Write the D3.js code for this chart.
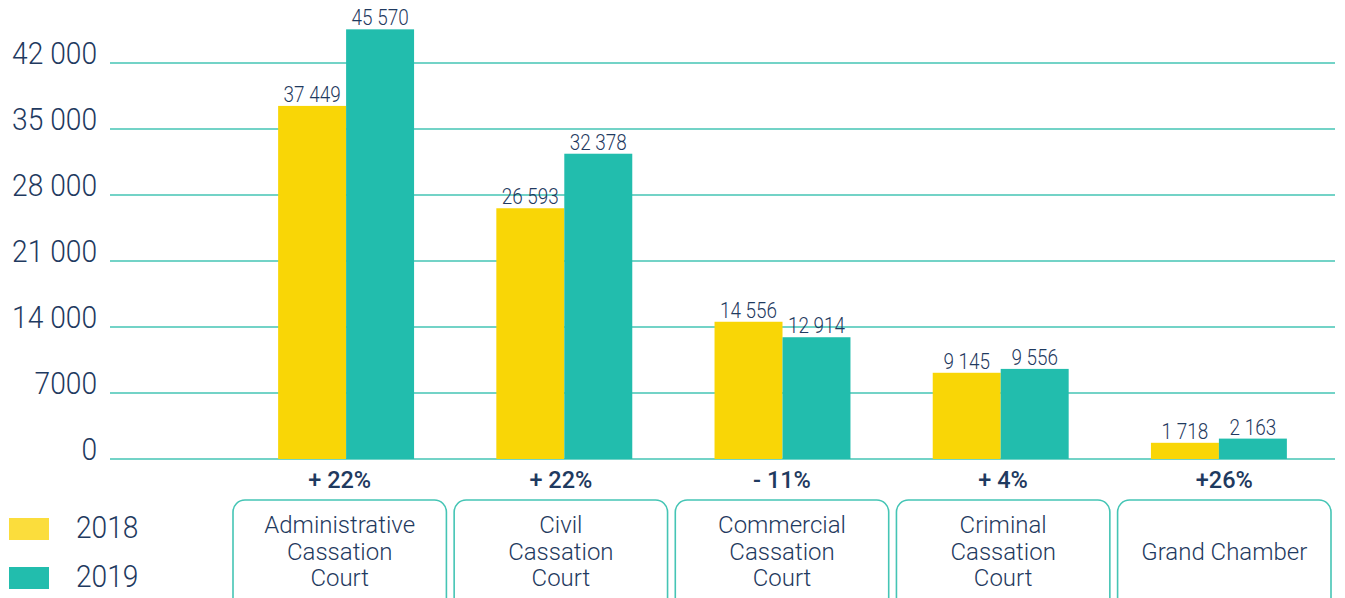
<!DOCTYPE html>
<html>
<head>
<meta charset="utf-8">
<script src="https://cdn.jsdelivr.net/npm/d3@7"></script>
<style>
  html, body { margin: 0; padding: 0; background: #ffffff; }
  svg { display: block; }
  text { font-family: Roboto, "Noto Sans", sans-serif; fill: #1f3a60; }
</style>
</head>
<body>
<svg id="chart" width="1345" height="598"></svg>
<script>
// Cases received by each court, 2018 vs 2019
const categories = [
  ["Administrative", "Cassation", "Court"],
  ["Civil", "Cassation", "Court"],
  ["Commercial", "Cassation", "Court"],
  ["Criminal", "Cassation", "Court"],
  ["Grand Chamber"]
];
const categoryKeys = ["admin", "civil", "commercial", "criminal", "grand"];
const values2018 = [37449, 26593, 14556, 9145, 1718];
const values2019 = [45570, 32378, 12914, 9556, 2163];
const changeLabels = ["+ 22%", "+ 22%", "- 11%", "+ 4%", "+26%"];
const seriesNames = ["2018", "2019"];
const yTicks = [0, 7000, 14000, 21000, 28000, 35000, 42000];
const yTickLabels = ["0", "7000", "14 000", "21 000", "28 000", "35 000", "42 000"];

const colors = { "2018": "#f9d606", "2019": "#22bdad" };
const legendColors = { "2018": "#fbdd3c", "2019": "#22bdad" };
const gridColor = "#45c5b5";

const svg = d3.select("#chart");

const plot = { left: 110, right: 1335, top: 63, bottom: 459 };

const y = d3.scaleLinear().domain([0, 42000]).range([plot.bottom, plot.top]);

// bar groups
const x0 = d3.scaleBand()
  .domain(categoryKeys)
  .range([237, 1328])
  .paddingInner(0.377)
  .paddingOuter(0.1885);

const x1 = d3.scaleBand()
  .domain(seriesNames)
  .range([0, x0.bandwidth()]);

// label boxes under the axis
const xBox = d3.scaleBand()
  .domain(categoryKeys)
  .range([233, 1331])
  .paddingInner(0.035);

const fmt = v => d3.format(",")(v).replace(/,/g, " ");

// numbers are set in a slightly narrow face
const condense = 0.88;
function numText(sel, x, yPos) {
  return sel.attr("transform", `translate(${x},${yPos}) scale(${condense},1)`);
}

// gridlines
svg.append("g")
  .selectAll("line")
  .data(yTicks)
  .join("line")
  .attr("x1", plot.left)
  .attr("x2", plot.right)
  .attr("y1", d => y(d))
  .attr("y2", d => y(d))
  .attr("stroke", gridColor)
  .attr("stroke-width", 1.6);

// y tick labels
svg.append("g")
  .selectAll("text")
  .data(yTicks)
  .join("text")
  .each(function (d) {
    numText(d3.select(this), 97, y(d) + 1);
  })
  .attr("text-anchor", "end")
  .attr("font-size", 32)
  .attr("font-weight", 300)
  .text((d, i) => yTickLabels[i]);

// bars
const rows = categoryKeys.map((k, i) => ({
  key: k,
  values: [
    { series: "2018", value: values2018[i] },
    { series: "2019", value: values2019[i] }
  ]
}));

const groups = svg.append("g")
  .selectAll("g")
  .data(rows)
  .join("g")
  .attr("transform", d => `translate(${x0(d.key)},0)`);

groups.selectAll("rect")
  .data(d => d.values)
  .join("rect")
  .attr("x", d => x1(d.series))
  .attr("width", x1.bandwidth())
  .attr("y", d => y(d.value))
  .attr("height", d => y(0) - y(d.value))
  .attr("fill", d => colors[d.series]);

groups.selectAll("text.val")
  .data(d => d.values)
  .join("text")
  .attr("class", "val")
  .each(function (d) {
    numText(d3.select(this), x1(d.series) + x1.bandwidth() / 2, y(d.value) - 4);
  })
  .attr("text-anchor", "middle")
  .attr("font-size", 21.5)
  .attr("font-weight", 300)
  .text(d => fmt(d.value));

// change percentages under axis
svg.append("g")
  .selectAll("text")
  .data(categoryKeys)
  .join("text")
  .attr("x", d => xBox(d) + xBox.bandwidth() / 2)
  .attr("y", 488)
  .attr("text-anchor", "middle")
  .attr("font-size", 23.5)
  .attr("font-weight", 500)
  .text((d, i) => changeLabels[i]);

// category boxes
const cats = svg.append("g")
  .selectAll("g")
  .data(categoryKeys)
  .join("g")
  .attr("transform", d => `translate(${xBox(d) + xBox.bandwidth() / 2},0)`);

cats.append("rect")
  .attr("x", -xBox.bandwidth() / 2)
  .attr("y", 500)
  .attr("width", xBox.bandwidth())
  .attr("height", 120)
  .attr("rx", 12)
  .attr("fill", "none")
  .attr("stroke", gridColor)
  .attr("stroke-width", 1.6);

cats.append("text")
  .attr("text-anchor", "middle")
  .attr("font-size", 24)
  .attr("font-weight", 300)
  .selectAll("tspan")
  .data((d, i) => categories[i].map((line, j, arr) => ({ line, j, n: arr.length })))
  .join("tspan")
  .attr("x", 0)
  .attr("y", d => d.n === 1 ? 560 : 533 + d.j * 26.5)
  .text(d => d.line);

// legend
const legend = svg.append("g")
  .selectAll("g")
  .data(seriesNames)
  .join("g")
  .attr("transform", (d, i) => `translate(9,${518 + i * 49})`);

legend.append("rect")
  .attr("width", 40)
  .attr("height", 22)
  .attr("fill", d => legendColors[d]);

legend.append("text")
  .each(function () {
    numText(d3.select(this), 67, 20);
  })
  .attr("font-size", 32)
  .attr("font-weight", 300)
  .text(d => d);
</script>
</body>
</html>
